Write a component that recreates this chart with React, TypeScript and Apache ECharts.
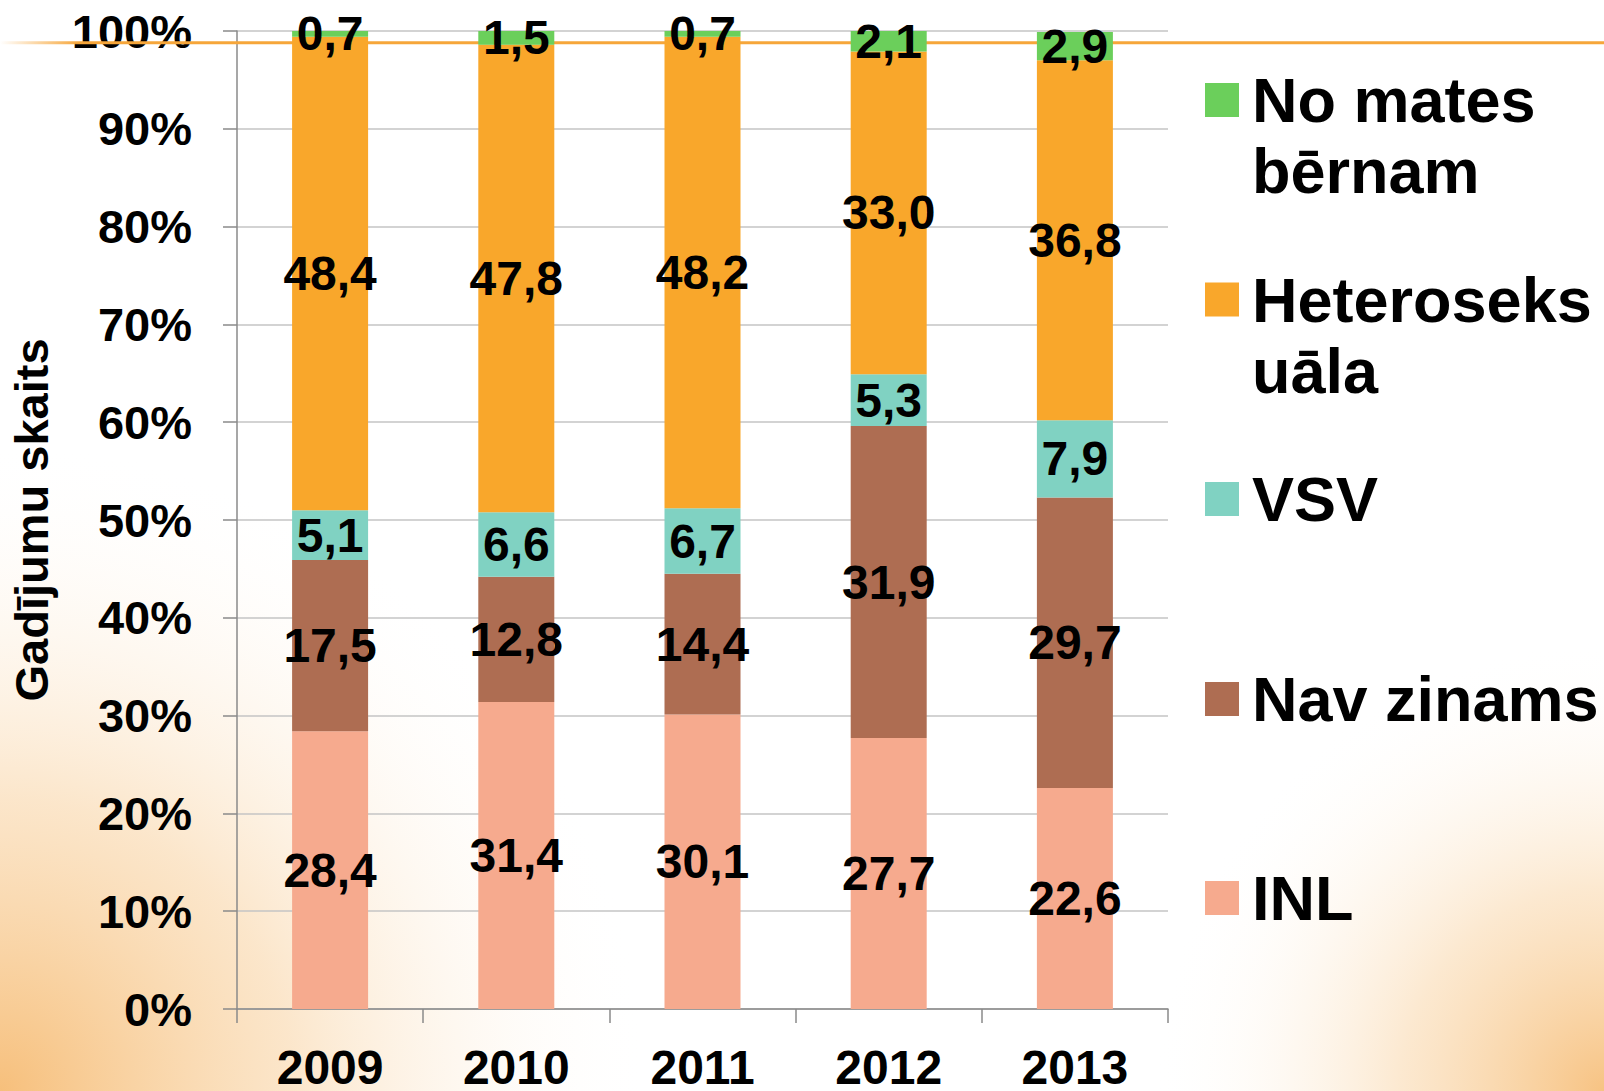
import React, { useEffect, useRef } from "react";
import * as echarts from "echarts";

const years = ["2009", "2010", "2011", "2012", "2013"];
const inl = [28.4, 31.4, 30.1, 27.7, 22.6];
const navZinams = [17.5, 12.8, 14.4, 31.9, 29.7];
const vsv = [5.1, 6.6, 6.7, 5.3, 7.9];
const hetero = [48.4, 47.8, 48.2, 33.0, 36.8];
const noMates = [0.7, 1.5, 0.7, 2.1, 2.9];

const seriesNames = ["INL", "Nav zinams", "VSV", "Heteroseksuāla", "No mates bērnam"];
const legendText: Record<string, string> = {
  "No mates bērnam": "\nNo mates\nbērnam",
  "Heteroseksuāla": "\nHeteroseks\nuāla",
  VSV: "VSV",
  "Nav zinams": "Nav zinams",
  INL: "INL",
};
const colors = ["#F6AA8E", "#AE6D52", "#80D2C2", "#F9A72B", "#6BCF5B"];

const FONT = "'Liberation Sans', Arial, sans-serif";

export default function App() {
  const ref = useRef<HTMLDivElement>(null);
  useEffect(() => {
    document.body.style.margin = "0";
    const chart = echarts.init(ref.current!, undefined, {
      renderer: "svg",
      width: 1604,
      height: 1091,
    });
    const values = [inl, navZinams, vsv, hetero, noMates];
    const fmt = (p: any) => Number(p.value).toFixed(1).replace(".", ",");
    const series = seriesNames.map((name, i) => ({
      name,
      type: "bar",
      stack: "total",
      data: values[i],
      barWidth: 76,
      itemStyle: { color: colors[i] },
      label: {
        show: true,
        position: "inside",
        formatter: fmt,
        color: "#000",
        fontSize: 48,
        fontWeight: "bold",
        fontFamily: FONT,
      },
    }));
    const legendBase = {
      left: 1205,
      padding: 0,
      itemWidth: 34,
      itemHeight: 34,
      icon: "rect",
      selectedMode: false,
      formatter: (n: string) => legendText[n],
    };
    const txt = {
      fontSize: 63,
      fontWeight: "bold",
      color: "#000",
      fontFamily: FONT,
      lineHeight: 71,
      padding: [0, 0, 0, 8],
    };
    chart.setOption({
      animation: false,
      backgroundColor: "#fff",
      grid: { left: 230, right: 436, top: 31, bottom: 77, containLabel: false },
      xAxis: {
        type: "category",
        data: years,
        axisLine: { lineStyle: { color: "#8a8a8a", width: 1.5 } },
        axisTick: { show: true, length: 14, lineStyle: { color: "#8a8a8a", width: 1.5 } },
        axisLabel: {
          color: "#000",
          fontSize: 48,
          fontWeight: "bold",
          fontFamily: FONT,
          margin: 34,
          lineHeight: 48,
        },
      },
      yAxis: {
        type: "value",
        min: 0,
        max: 100,
        interval: 10,
        name: "Gadījumu skaits",
        nameLocation: "middle",
        nameGap: 182,
        nameRotate: 90,
        nameTextStyle: { color: "#000", fontSize: 47, fontWeight: "bold", fontFamily: FONT },
        axisLine: { show: true, lineStyle: { color: "#8a8a8a", width: 1.5 } },
        axisTick: { show: true, length: 14, lineStyle: { color: "#8a8a8a", width: 1.5 } },
        splitLine: { lineStyle: { color: "#c4c4c4", width: 1.5 } },
        axisLabel: {
          formatter: "{value}%",
          color: "#000",
          fontSize: 47,
          fontWeight: "bold",
          fontFamily: FONT,
          margin: 45,
        },
      },
      legend: [
        { ...legendBase, data: ["No mates bērnam"], top: 100 - 106.5, textStyle: txt },
        { ...legendBase, data: ["Heteroseksuāla"], top: 299.5 - 106.5, textStyle: txt },
        { ...legendBase, data: ["VSV"], top: 499 - 35.5, textStyle: txt },
        { ...legendBase, data: ["Nav zinams"], top: 699 - 35.5, textStyle: txt },
        { ...legendBase, data: ["INL"], top: 898 - 35.5, textStyle: txt },
      ],
      graphic: [
        {
          type: "circle",
          z: -100,
          silent: true,
          shape: { cx: 0, cy: 1091, r: 650 },
          style: {
            fill: new echarts.graphic.RadialGradient(0.5, 0.5, 0.5, [
              { offset: 0, color: "rgba(245,180,100,0.85)" },
              { offset: 0.45, color: "rgba(248,205,150,0.5)" },
              { offset: 1, color: "rgba(255,255,255,0)" },
            ]),
          },
        },
        {
          type: "circle",
          z: -100,
          silent: true,
          shape: { cx: 1604, cy: 1091, r: 450 },
          style: {
            fill: new echarts.graphic.RadialGradient(0.5, 0.5, 0.5, [
              { offset: 0, color: "rgba(245,180,100,0.8)" },
              { offset: 0.45, color: "rgba(248,205,150,0.45)" },
              { offset: 1, color: "rgba(255,255,255,0)" },
            ]),
          },
        },
        {
          type: "rect",
          z: 1,
          silent: true,
          shape: { x: 0, y: 41.3, width: 1604, height: 3 },
          style: {
            fill: new echarts.graphic.LinearGradient(0, 0, 1, 0, [
              { offset: 0, color: "rgba(246,166,58,0)" },
              { offset: 0.05, color: "rgba(246,166,58,1)" },
              { offset: 1, color: "rgba(246,166,58,1)" },
            ]),
          },
        },
      ],
      series,
    });
    return () => chart.dispose();
  }, []);
  return (
    <div
      ref={ref}
      style={{ position: "fixed", left: 0, top: 0, width: 1604, height: 1091 }}
    />
  );
}
